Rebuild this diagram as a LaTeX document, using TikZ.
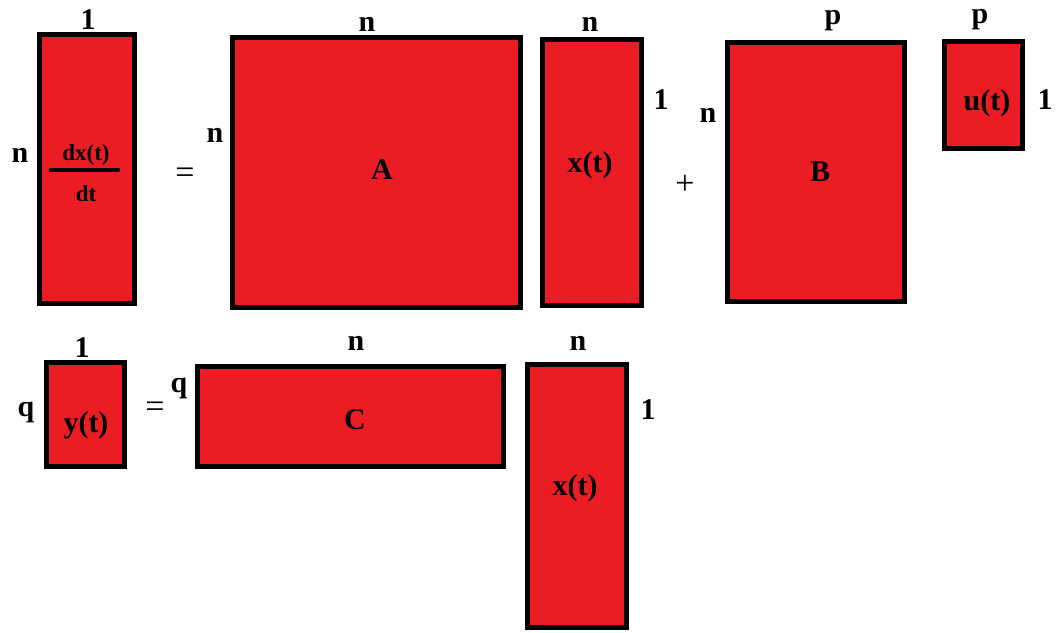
\documentclass[tikz,border=0pt]{standalone}
\usepackage{fontspec}
\setmainfont{Liberation Serif}
\definecolor{matred}{RGB}{236,28,36}
\begin{document}
\begin{tikzpicture}[x=1pt,y=-1pt,
  mat/.style={draw=black, fill=matred, line width=5.5pt, inner sep=0pt},
  dim/.style={inner sep=0pt, font=\fontsize{30}{30}\selectfont\bfseries},
  inl/.style={inner sep=0pt, font=\fontsize{30}{30}\selectfont\bfseries},
  sml/.style={inner sep=0pt, font=\fontsize{23}{23}\selectfont\bfseries},
  op/.style={inner sep=0pt, font=\fontsize{34}{34}\selectfont}]
\useasboundingbox[fill=white] (0,0) rectangle (1056,632);
% top row
\node[mat, minimum width=95pt, minimum height=269pt] (D) at (87,169) {};
\node[mat, minimum width=288pt, minimum height=270pt] (A) at (376.5,172.5) {};
\node[mat, minimum width=99pt, minimum height=266pt] (X1) at (592,172.5) {};
\node[mat, minimum width=177pt, minimum height=259pt] (B) at (816,172) {};
\node[mat, minimum width=78pt, minimum height=107pt] (U) at (983.5,95) {};
% bottom row
\node[mat, minimum width=78pt, minimum height=104pt] (Y) at (85.5,414.5) {};
\node[mat, minimum width=306pt, minimum height=100pt] (C) at (350.5,416.5) {};
\node[mat, minimum width=99pt, minimum height=263pt] (X2) at (577,496) {};
% inner labels
\node[sml] (dx) at (86,155) {dx(t)};
\coordinate (fl) at (51,170);
\coordinate (fr) at (118,170);
\draw[line width=4.5pt, line cap=round] (fl) -- (fr);
\node[sml] (dt) at (86,194) {dt};
\node[inl] (lA) at (382,170) {A};
\node[inl] (lX1) at (590,165) {x(t)};
\node[inl] (lB) at (820,172) {B};
\node[inl] (lU) at (987,103) {u(t)};
\node[inl] (lY) at (86,425) {y(t)};
\node[inl] (lC) at (355,420) {C};
\node[inl] (lX2) at (575,488) {x(t)};
% dimension labels
\node[dim] (d1) at (88,20) {1};
\node[dim] (d2) at (20,155) {n};
\node[dim] (a1) at (367,24) {n};
\node[dim] (a2) at (215,135) {n};
\node[dim] (x1) at (590,24) {n};
\node[dim] (x2) at (661,100) {1};
\node[dim] (b1) at (833,21) {p};
\node[dim] (b2) at (708,115) {n};
\node[dim] (u1) at (980,20) {p};
\node[dim] (u2) at (1045,100) {1};
\node[dim] (y1) at (82,348) {1};
\node[dim] (y2) at (26,412) {q};
\node[dim] (c1) at (356,343) {n};
\node[dim] (c2) at (179,388) {q};
\node[dim] (e1) at (578,343) {n};
\node[dim] (e2) at (648,410) {1};
% operators
\node[op] (eq1) at (185,176) {=};
\node[op] (plus) at (685,185) {+};
\node[op] (eq2) at (155,410) {=};
\end{tikzpicture}
\end{document}
